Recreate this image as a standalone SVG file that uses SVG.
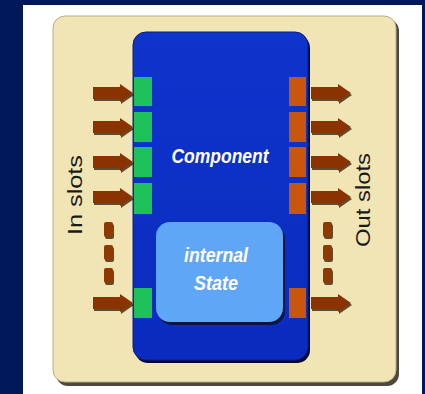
<svg xmlns="http://www.w3.org/2000/svg" width="425" height="394" viewBox="0 0 425 394">
<defs>
<style>
.lbl{font-family:"Liberation Sans",Arial,sans-serif;fill:#1a1a1a;font-size:20px}
.wt{font-family:"Liberation Sans",Arial,sans-serif;fill:#ffffff;font-size:20px;font-weight:bold;font-style:italic;text-anchor:middle}
.in{fill:#1ec05a}
.out{fill:#c9560f}
.arr{fill:#8a3300}
.sh{fill:#2a1a00;opacity:0.75}
.dash{fill:#8e3802}
</style>
<linearGradient id="blueG" x1="0" y1="0" x2="0" y2="1">
<stop offset="0" stop-color="#0f34cc"/>
<stop offset="1" stop-color="#0a2bbd"/>
</linearGradient>
<path id="arrow" d="M0,-6 H27 V-9 L40,0 L27,9 V6 H0 Z"/>
</defs>
<rect x="0" y="0" width="425" height="394" fill="#00175a"/>
<rect x="23" y="5" width="399" height="389" fill="#ffffff"/>
<g id="frame">
<rect x="56" y="19" width="343" height="367" rx="12" fill="#1f1a10" opacity="0.8"/>
<rect x="53" y="16" width="343" height="366" rx="12" fill="#f2e5b5" stroke="#b8ad8a" stroke-width="1"/>
</g>
<g id="component">
<rect x="135" y="35" width="175" height="328" rx="13" fill="#050a30"/>
<rect x="133" y="32" width="175" height="328" rx="13" fill="url(#blueG)" stroke="#0a1e80" stroke-width="1"/>
<text class="wt" x="220" y="163" textLength="97" lengthAdjust="spacingAndGlyphs">Component</text>
</g>
<g id="internal-state">
<rect x="158" y="225" width="127" height="100" rx="14" fill="#0a1440"/>
<rect x="156" y="222" width="127" height="100" rx="14" fill="#5fa6f6"/>
<text class="wt" x="216" y="262" textLength="64" lengthAdjust="spacingAndGlyphs">internal</text>
<text class="wt" x="216" y="290" textLength="44" lengthAdjust="spacingAndGlyphs">State</text>
</g>
<g id="in-slots">
<rect class="in" x="134" y="77" width="18" height="29"/>
<rect class="in" x="134" y="112" width="18" height="30"/>
<rect class="in" x="134" y="147" width="18" height="30"/>
<rect class="in" x="134" y="183" width="18" height="31"/>
<rect class="in" x="134" y="288" width="18" height="30"/>
</g>
<g id="out-slots">
<rect class="out" x="289" y="77" width="17" height="29"/>
<rect class="out" x="289" y="112" width="17" height="30"/>
<rect class="out" x="289" y="147" width="17" height="30"/>
<rect class="out" x="289" y="183" width="17" height="31"/>
<rect class="out" x="289" y="288" width="17" height="30"/>
</g>
<g id="connectors">
<g transform="translate(93,93)"><use href="#arrow" class="sh" x="1" y="2"/><use href="#arrow" class="arr"/></g>
<g transform="translate(93,127)"><use href="#arrow" class="sh" x="1" y="2"/><use href="#arrow" class="arr"/></g>
<g transform="translate(93,162)"><use href="#arrow" class="sh" x="1" y="2"/><use href="#arrow" class="arr"/></g>
<g transform="translate(93,197)"><use href="#arrow" class="sh" x="1" y="2"/><use href="#arrow" class="arr"/></g>
<g transform="translate(93,303)"><use href="#arrow" class="sh" x="1" y="2"/><use href="#arrow" class="arr"/></g>
<g transform="translate(311,93)"><use href="#arrow" class="sh" x="1" y="2"/><use href="#arrow" class="arr"/></g>
<g transform="translate(311,127)"><use href="#arrow" class="sh" x="1" y="2"/><use href="#arrow" class="arr"/></g>
<g transform="translate(311,162)"><use href="#arrow" class="sh" x="1" y="2"/><use href="#arrow" class="arr"/></g>
<g transform="translate(311,197)"><use href="#arrow" class="sh" x="1" y="2"/><use href="#arrow" class="arr"/></g>
<g transform="translate(311,303)"><use href="#arrow" class="sh" x="1" y="2"/><use href="#arrow" class="arr"/></g>
<rect class="sh" x="105" y="224" width="9" height="15" rx="2"/>
<rect class="dash" x="104" y="222" width="9" height="15" rx="2"/>
<rect class="sh" x="105" y="247" width="9" height="15" rx="2"/>
<rect class="dash" x="104" y="245" width="9" height="15" rx="2"/>
<rect class="sh" x="105" y="270" width="9" height="15" rx="2"/>
<rect class="dash" x="104" y="268" width="9" height="15" rx="2"/>
<rect class="sh" x="324" y="224" width="9" height="15" rx="2"/>
<rect class="dash" x="323" y="222" width="9" height="15" rx="2"/>
<rect class="sh" x="324" y="247" width="9" height="15" rx="2"/>
<rect class="dash" x="323" y="245" width="9" height="15" rx="2"/>
<rect class="sh" x="324" y="270" width="9" height="15" rx="2"/>
<rect class="dash" x="323" y="268" width="9" height="15" rx="2"/>
</g>
<g id="labels">
<text class="lbl" transform="translate(82,235) rotate(-90)" textLength="80" lengthAdjust="spacingAndGlyphs">In slots</text>
<text class="lbl" transform="translate(370,247) rotate(-90)" textLength="94" lengthAdjust="spacingAndGlyphs">Out slots</text>
</g>
</svg>
